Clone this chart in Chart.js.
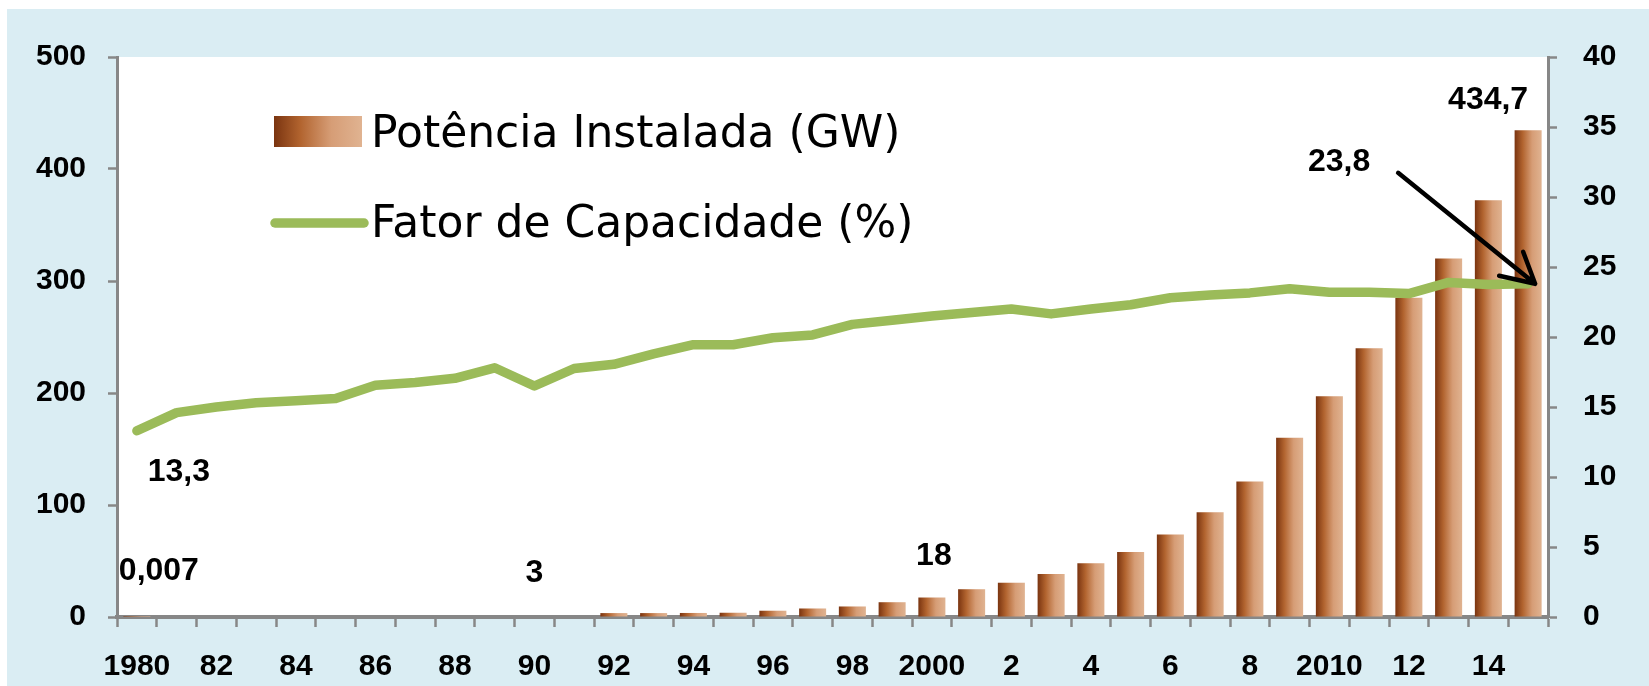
<!DOCTYPE html>
<html>
<head>
<meta charset="utf-8">
<script src="https://cdn.jsdelivr.net/npm/chart.js"></script>
<style>
  html, body { margin: 0; padding: 0; background: #fff; }
  #wrap { width: 1649px; height: 686px; }
</style>
</head>
<body>
<div id="wrap"><canvas id="chartWind" width="1649" height="686"></canvas></div>
<script>
// --- DATA ---
const years = [1980, 1981, 1982, 1983, 1984, 1985, 1986, 1987, 1988, 1989,
               1990, 1991, 1992, 1993, 1994, 1995, 1996, 1997, 1998, 1999,
               2000, 2001, 2002, 2003, 2004, 2005, 2006, 2007, 2008, 2009,
               2010, 2011, 2012, 2013, 2014, 2015];
const xTickLabels = ['1980', '', '82', '', '84', '', '86', '', '88', '',
                     '90', '', '92', '', '94', '', '96', '', '98', '',
                     '2000', '', '2', '', '4', '', '6', '', '8', '',
                     '2010', '', '12', '', '14', ''];
// Potência instalada (GW)
const capacityGW = [0.007, null, null, null, null, null, null, null, null, null,
                    null, null, 3.5, 3.5, 3.6, 3.8, 5.6, 7.6, 9.4, 13.2,
                    17.4, 24.8, 30.6, 38.5, 48, 58, 73.6, 93.5, 121, 160,
                    197, 240, 285, 320, 372, 434.7];
// Fator de capacidade (%)
const capacityFactor = [13.3, 14.6, 15.0, 15.3, 15.45, 15.6, 16.55, 16.75, 17.05, 17.8,
                        16.5, 17.75, 18.05, 18.8, 19.45, 19.45, 19.95, 20.15, 20.9, 21.2,
                        21.5, 21.75, 22.0, 21.65, 22.0, 22.3, 22.8, 23.0, 23.15, 23.45,
                        23.2, 23.2, 23.1, 23.9, 23.75, 23.8];
const leftTicks = [0, 100, 200, 300, 400, 500];
const rightTicks = [0, 5, 10, 15, 20, 25, 30, 35, 40];

// --- STYLE ---
const BG_BLUE = '#daedf3';
const AXIS_GRAY = '#878787';
const LINE_GREEN = '#9bbb59';
const BAR_PCT = 0.68;
const TICK_FONT = { family: "'Liberation Sans', Arial, sans-serif", size: 30, weight: 'bold' };

function barGradient(ctx, x0, x1) {
    const g = ctx.createLinearGradient(x0, 0, x1, 0);
    g.addColorStop(0, '#7a3410');
    g.addColorStop(0.3, '#b2642f');
    g.addColorStop(0.65, '#d69d76');
    g.addColorStop(1, '#e0b391');
    return g;
}

// background: white strip top/left, light blue frame, white plot area
const backgroundPlugin = {
    id: 'bg',
    beforeDraw(chart) {
        const { ctx, chartArea: a, width, height } = chart;
        ctx.save();
        ctx.fillStyle = '#ffffff';
        ctx.fillRect(0, 0, width, height);
        ctx.fillStyle = BG_BLUE;
        ctx.fillRect(7, 9, width - 7, height - 9);
        ctx.fillStyle = '#ffffff';
        ctx.fillRect(a.left, a.top, a.right - a.left, a.bottom - a.top);
        ctx.restore();
    }
};

// legend drawn inside the plot, top-left
const legendPlugin = {
    id: 'innerLegend',
    afterDatasetsDraw(chart) {
        const ctx = chart.ctx;
        const ds = chart.data.datasets;
        ctx.save();
        // bar swatch
        ctx.fillStyle = barGradient(ctx, 274, 362);
        ctx.fillRect(274, 116, 88, 31);
        // line swatch
        ctx.strokeStyle = LINE_GREEN;
        ctx.lineWidth = 9.5;
        ctx.lineCap = 'round';
        ctx.beginPath();
        ctx.moveTo(275, 223);
        ctx.lineTo(364, 223);
        ctx.stroke();
        ctx.fillStyle = '#000';
        ctx.font = "44px 'DejaVu Sans', sans-serif";
        ctx.textBaseline = 'alphabetic';
        ctx.textAlign = 'left';
        ctx.fillText(ds[1].label, 371, 147);
        ctx.fillText(ds[0].label, 371, 237);
        ctx.restore();
    }
};

// value labels and the arrow
const notesPlugin = {
    id: 'notes',
    afterDraw(chart) {
        const { ctx, scales } = chart;
        const xs = scales.x, y = scales.y, y1 = scales.y1;
        const last = years.length - 1;
        const notes = [
            { text: '0,007', x: xs.getPixelForValue(0) + 22, y: y.getPixelForValue(0) - 46 },
            { text: '13,3', x: xs.getPixelForValue(0) + 42, y: y1.getPixelForValue(capacityFactor[0]) + 41 },
            { text: '3', x: xs.getPixelForValue(10), y: y.getPixelForValue(0) - 44 },
            { text: '18', x: xs.getPixelForValue(20) + 2, y: y.getPixelForValue(capacityGW[20]) - 41 },
            { text: '434,7', x: xs.getPixelForValue(last) - 40, y: y.getPixelForValue(capacityGW[last]) - 30 },
            { text: '23,8', x: xs.getPixelForValue(last) - 189, y: y1.getPixelForValue(capacityFactor[last]) - 122 }
        ];
        ctx.save();
        ctx.fillStyle = '#000';
        ctx.font = "bold 32px 'Liberation Sans', Arial, sans-serif";
        ctx.textAlign = 'center';
        ctx.textBaseline = 'middle';
        notes.forEach(n => ctx.fillText(n.text, n.x, n.y));

        // arrow to the last capacity factor point
        const tx = xs.getPixelForValue(last) + 7;
        const ty = y1.getPixelForValue(capacityFactor[last]);
        const sx = tx - 137, sy = ty - 111;
        ctx.strokeStyle = '#000';
        ctx.lineWidth = 4.5;
        ctx.lineCap = 'round';
        ctx.lineJoin = 'round';
        ctx.beginPath();
        ctx.moveTo(sx, sy);
        ctx.lineTo(tx, ty);
        ctx.moveTo(tx - 36, ty - 8);
        ctx.lineTo(tx, ty);
        ctx.lineTo(tx - 12, ty - 32);
        ctx.stroke();
        ctx.restore();
    }
};

const ctxWind = document.getElementById('chartWind').getContext('2d');
new Chart(ctxWind, {
    type: 'bar',
    data: {
        labels: xTickLabels,
        datasets: [
            {
                type: 'line',
                label: 'Fator de Capacidade (%)',
                data: capacityFactor,
                yAxisID: 'y1',
                borderColor: LINE_GREEN,
                borderWidth: 9.5,
                borderJoinStyle: 'round',
                borderCapStyle: 'round',
                pointRadius: 0,
                tension: 0,
                order: 0
            },
            {
                type: 'bar',
                label: 'Potência Instalada (GW)',
                data: capacityGW,
                yAxisID: 'y',
                barPercentage: BAR_PCT,
                categoryPercentage: 1,
                borderWidth: 0,
                order: 1,
                backgroundColor: function(c) {
                    const xs = c.chart.scales.x;
                    if (!xs || c.dataIndex === undefined) return '#b2642f';
                    const cx = xs.getPixelForValue(c.dataIndex);
                    const half = (xs.width / years.length) * BAR_PCT / 2;
                    if (!isFinite(cx) || !isFinite(half)) return '#b2642f';
                    return barGradient(c.chart.ctx, cx - half, cx + half);
                }
            }
        ]
    },
    options: {
        responsive: false,
        animation: false,
        layout: { padding: { top: 57, left: 0, right: 0, bottom: 0 } },
        plugins: {
            legend: { display: false },
            tooltip: { enabled: false }
        },
        scales: {
            x: {
                offset: true,
                afterFit(scale) { scale.height = 69; },
                grid: {
                    offset: true,
                    drawOnChartArea: false,
                    drawTicks: true,
                    tickLength: 10,
                    tickColor: AXIS_GRAY,
                    tickWidth: 2.5
                },
                border: { display: true, color: AXIS_GRAY, width: 4 },
                ticks: {
                    autoSkip: false,
                    maxRotation: 0,
                    color: '#000',
                    padding: 22,
                    font: TICK_FONT
                }
            },
            y: {
                position: 'left',
                min: 0,
                max: 500,
                afterFit(scale) { scale.width = 117; },
                afterBuildTicks(scale) { scale.ticks = leftTicks.map(v => ({ value: v })); },
                grid: {
                    drawOnChartArea: false,
                    drawTicks: true,
                    tickLength: 9,
                    tickColor: AXIS_GRAY,
                    tickWidth: 2.5
                },
                border: { display: true, color: AXIS_GRAY, width: 3 },
                ticks: { color: '#000', padding: 22, font: TICK_FONT }
            },
            y1: {
                position: 'right',
                min: 0,
                max: 40,
                afterFit(scale) { scale.width = 101; },
                afterBuildTicks(scale) { scale.ticks = rightTicks.map(v => ({ value: v })); },
                grid: {
                    drawOnChartArea: false,
                    drawTicks: true,
                    tickLength: 9,
                    tickColor: AXIS_GRAY,
                    tickWidth: 2.5
                },
                border: { display: true, color: AXIS_GRAY, width: 3 },
                ticks: { color: '#000', padding: 26, font: TICK_FONT }
            }
        }
    },
    plugins: [backgroundPlugin, legendPlugin, notesPlugin]
});
</script>
</body>
</html>
